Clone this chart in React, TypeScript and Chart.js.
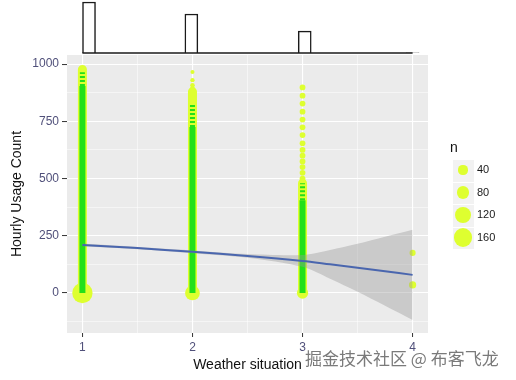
import React, { useEffect, useRef } from 'react';
import { Chart, registerables } from 'chart.js';
Chart.register(...registerables);

// ---- axis ticks ----
const xTickValues = [1, 1.5, 2, 2.5, 3, 3.5, 4];
const xMajorTicks = [1, 2, 3, 4];
const yTickValues = [-125, 0, 125, 250, 375, 500, 625, 750, 875, 1000];
const yMajorTicks = [0, 250, 500, 750, 1000];

// ---- marginal histogram (weather situation) ----
const histCenters = [1.06, 1.99, 3.02, 4.0];
const histCounts = [980, 750, 420, 3];

// ---- dense point columns per weather situation ----
const columnWeather = [1, 2, 3];
const yellowColumnTop = [977, 880, 480];
const greenSparseTop = [965, 830, 480];
const greenSolidTop = [905, 725, 405];

// ---- individual counted points (x = weather, y = hourly count, n = size) ----
const countX = [1, 2, 3, 2, 2, 2, 2, 3, 3, 3, 3, 3, 3, 3, 3, 3, 3, 3, 3, 3, 3, 4, 4];
const countY = [0, 0, 0, 966, 930, 908, 895, 898, 862, 828, 792, 758, 724, 690, 654, 625, 600, 575, 550, 525, 500, 175, 35];
const countN = [200, 105, 62, 8, 9, 10, 10, 16, 16, 16, 16, 16, 16, 16, 16, 16, 16, 16, 16, 16, 16, 18, 25];

// ---- loess smooth with confidence band ----
const smoothX = [1, 1.5, 2, 2.5, 3, 3.25, 3.5, 3.75, 4];
const smoothFit = [210, 196, 180, 162, 140, 125, 110, 95, 79];
const smoothUpper = [216, 201, 186, 170, 166, 188, 215, 246, 276];
const smoothLower = [204, 191, 174, 154, 114, 62, 5, -56, -118];

// ---- size legend ----
const legendTitle = 'n';
const legendN = [40, 80, 120, 160];

const FONT = "'Liberation Sans', Arial, sans-serif";
const YELLOW = '#DEFF30';
const GREEN = '#22E01A';
const TICK_COLOR = '#50507A';
const sizeOf = (n: number) => 0.72 * Math.sqrt(n);

const segments = (tops: number[], bottoms: number[]) => {
  const out: any[] = [];
  columnWeather.forEach((w, i) => {
    out.push({ x: w, y: bottoms[i] });
    out.push({ x: w, y: tops[i] });
    out.push({ x: w, y: null });
  });
  return out;
};

const bgPlugin = {
  id: 'panelBg',
  beforeDraw(chart: any) {
    const { ctx, chartArea } = chart;
    ctx.save();
    ctx.fillStyle = '#EBEBEB';
    ctx.fillRect(chartArea.left, chartArea.top, chartArea.right - chartArea.left, chartArea.bottom - chartArea.top);
    ctx.restore();
  },
};

export default function App() {
  const mainRef = useRef<HTMLCanvasElement>(null);
  const histRef = useRef<HTMLCanvasElement>(null);

  useEffect(() => {
    const zeros = columnWeather.map(() => 0);
    const main = new Chart(mainRef.current!, {
      type: 'scatter',
      data: {
        datasets: [
          {
            type: 'line',
            label: 'smooth',
            data: smoothX.map((x, i) => ({ x, y: smoothFit[i] })),
            borderColor: '#4A66AE',
            borderWidth: 2,
            pointRadius: 0,
            tension: 0.3,
            fill: false,
            order: 0,
          } as any,
          {
            type: 'line',
            label: 'upper',
            data: smoothX.map((x, i) => ({ x, y: smoothUpper[i] })),
            borderWidth: 0,
            pointRadius: 0,
            tension: 0.3,
            fill: '+1',
            backgroundColor: 'rgba(153,153,153,0.4)',
            order: 1,
          } as any,
          {
            type: 'line',
            label: 'lower',
            data: smoothX.map((x, i) => ({ x, y: smoothLower[i] })),
            borderWidth: 0,
            pointRadius: 0,
            tension: 0.3,
            fill: false,
            order: 1,
          } as any,
          {
            type: 'line',
            label: 'greenSolid',
            data: segments(greenSolidTop, zeros),
            borderColor: GREEN,
            borderWidth: 6,
            pointRadius: 0,
            spanGaps: false,
            fill: false,
            order: 2,
          } as any,
          {
            type: 'line',
            label: 'greenSparse',
            data: segments(greenSparseTop, greenSolidTop),
            borderColor: GREEN,
            borderWidth: 5,
            borderDash: [2, 2],
            pointRadius: 0,
            spanGaps: false,
            fill: false,
            order: 2,
          } as any,
          {
            type: 'line',
            label: 'yellowColumn',
            data: segments(yellowColumnTop, zeros),
            borderColor: YELLOW,
            borderWidth: 9,
            borderCapStyle: 'round',
            pointRadius: 0,
            spanGaps: false,
            fill: false,
            order: 3,
          } as any,
          {
            type: 'scatter',
            label: 'counts',
            data: countX.map((x, i) => ({ x, y: countY[i], n: countN[i] })),
            backgroundColor: YELLOW,
            borderWidth: 0,
            pointRadius: (c: any) => sizeOf(c.raw ? c.raw.n : 10),
            order: 4,
          } as any,
        ],
      },
      options: {
        animation: false,
        responsive: false,
        layout: { padding: { top: 55, right: 88, left: 0, bottom: 0 } },
        plugins: { legend: { display: false }, tooltip: { enabled: false } },
        scales: {
          x: {
            type: 'linear',
            min: 0.86,
            max: 4.14,
            afterFit: (s: any) => { s.height = 47; },
            afterBuildTicks: (s: any) => { s.ticks = xTickValues.map((v) => ({ value: v })); },
            border: { display: false },
            grid: {
              color: '#FFFFFF',
              lineWidth: (c: any) => (xMajorTicks.includes(c.tick?.value) ? 1.1 : 0.5),
              tickColor: (c: any) => (xMajorTicks.includes(c.tick?.value) ? '#333333' : 'rgba(0,0,0,0)'),
              tickLength: 4,
              tickWidth: 1,
            },
            ticks: {
              autoSkip: false,
              maxRotation: 0,
              padding: 3,
              color: TICK_COLOR,
              font: { family: FONT, size: 12 },
              callback: (v: any) => (xMajorTicks.includes(Number(v)) ? String(v) : ''),
            },
            title: {
              display: true,
              text: 'Weather situation',
              color: '#111111',
              font: { family: FONT, size: 14 },
              padding: { top: 0, bottom: 6 },
            },
          },
          y: {
            type: 'linear',
            min: -175,
            max: 1040,
            afterFit: (s: any) => { s.width = 67; },
            afterBuildTicks: (s: any) => { s.ticks = yTickValues.map((v) => ({ value: v })); },
            border: { display: false },
            grid: {
              color: '#FFFFFF',
              lineWidth: (c: any) => (yMajorTicks.includes(c.tick?.value) ? 1.1 : 0.5),
              tickColor: (c: any) => (yMajorTicks.includes(c.tick?.value) ? '#333333' : 'rgba(0,0,0,0)'),
              tickLength: 5,
              tickWidth: 1,
            },
            ticks: {
              autoSkip: false,
              padding: 3,
              color: TICK_COLOR,
              font: { family: FONT, size: 12 },
              callback: (v: any) => (yMajorTicks.includes(Number(v)) ? String(v) : ''),
            },
            title: {
              display: true,
              text: 'Hourly Usage Count',
              color: '#111111',
              font: { family: FONT, size: 14 },
              padding: { top: 9, bottom: 0 },
            },
          },
        },
      } as any,
      plugins: [bgPlugin],
    });

    const hist = new Chart(histRef.current!, {
      type: 'bar',
      data: {
        datasets: [
          {
            type: 'line',
            label: 'baseline',
            data: [{ x: xMajorTicks[0], y: 0 }, { x: xMajorTicks[xMajorTicks.length - 1], y: 0 }],
            borderColor: '#1A1A1A',
            borderWidth: 1.5,
            pointRadius: 0,
            clip: false,
            order: 0,
          } as any,
          {
            type: 'bar',
            label: 'hist',
            data: histCenters.map((x, i) => ({ x, y: histCounts[i] })),
            backgroundColor: '#FFFFFF',
            borderColor: '#1A1A1A',
            borderWidth: 1.5,
            barThickness: 13,
            grouped: false,
            clip: false,
            order: 1,
          } as any,
        ],
      },
      options: {
        animation: false,
        responsive: false,
        layout: { padding: { top: 2, right: 88, left: 67, bottom: 2 } },
        plugins: { legend: { display: false }, tooltip: { enabled: false } },
        scales: {
          x: { type: 'linear', min: 0.86, max: 4.14, offset: false, display: false, grid: { offset: false } },
          y: { type: 'linear', min: 0, max: histCounts[0], display: false },
        },
      } as any,
    });

    return () => {
      main.destroy();
      hist.destroy();
    };
  }, []);

  return (
    <div style={{ position: 'absolute', left: 0, top: 0, width: 516, height: 380, background: '#FFFFFF', overflow: 'hidden' }}>
      <canvas ref={mainRef} width={516} height={380} style={{ position: 'absolute', left: 0, top: 0, width: 516, height: 380 }} />
      <canvas ref={histRef} width={516} height={55} style={{ position: 'absolute', left: 0, top: 0, width: 516, height: 55 }} />
      <div style={{ position: 'absolute', left: 450, top: 139, fontFamily: FONT, fontSize: 14, color: '#111' }}>{legendTitle}</div>
      {legendN.map((n, i) => {
        const r = sizeOf(n);
        return (
          <div key={n} style={{ position: 'absolute', left: 452, top: 159 + i * 22.5, width: 22, height: 22.5 }}>
            <div style={{ position: 'absolute', left: 0, top: 0, width: 21, height: 21.5, background: '#F2F2F2', border: '0.5px solid #FFFFFF' }} />
            <div style={{ position: 'absolute', left: 11 - r, top: 11 - r, width: 2 * r, height: 2 * r, borderRadius: '50%', background: YELLOW }} />
            <div style={{ position: 'absolute', left: 25, top: 4, fontFamily: FONT, fontSize: 11, color: '#1A1A1A', whiteSpace: 'nowrap' }}>{n}</div>
          </div>
        );
      })}
      <div style={{ position: 'absolute', left: 305, top: 345, fontFamily: "'Noto Sans CJK SC', sans-serif", fontSize: 17, color: '#7A7A7A', whiteSpace: 'nowrap', textShadow: '0 0 2px #FFFFFF' }}>掘金技术社区 @ 布客飞龙</div>
    </div>
  );
}
